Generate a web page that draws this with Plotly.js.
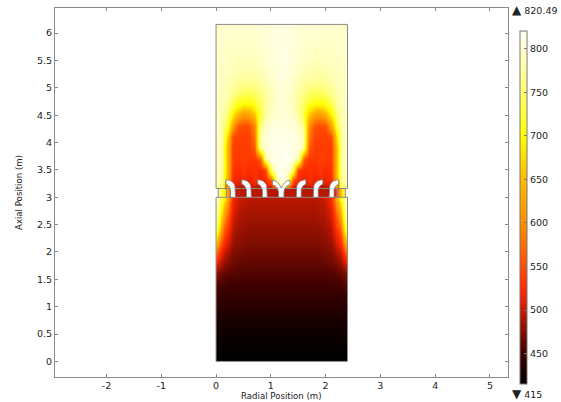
<!DOCTYPE html>
<html><head><meta charset="utf-8">
<script src="https://cdn.plot.ly/plotly-3.0.1.min.js"></script>
<style>html,body{margin:0;padding:0;background:#fff}</style></head>
<body><div id="chart" style="width:561px;height:402px"></div>
<script>
const upperX=[0,.05,.15,.25,.35,.45,.55,.65,.75,.85,.95,1.05,1.15,1.25,1.35,1.45,1.55,1.65,1.75,1.85,1.95,2.05,2.15,2.25,2.35,2.4];
const upperY=[3.16,3.23,3.4,3.6,3.8,4,4.2,4.4,4.6,4.8,5,5.2,5.4,5.65,5.95,6.16];
const upperT=[
[760,770,620,500,495,500,495,500,495,500,505,600,800,600,505,500,495,500,495,500,495,500,620,770,760],
[780,775,640,525,515,525,515,530,515,525,560,790,815,790,560,525,515,530,515,525,515,525,640,775,780],
[788,785,650,535,525,535,525,530,525,540,760,808,818,808,760,540,525,530,525,535,525,535,650,785,788],
[790,785,650,540,535,540,535,535,560,780,810,816,818,816,810,780,560,535,535,540,535,540,650,785,790],
[792,785,650,540,538,540,538,560,770,805,812,815,816,815,812,805,770,560,538,540,538,540,650,785,792],
[792,785,680,550,540,540,545,580,785,805,810,812,812,812,810,805,785,580,545,540,540,550,680,785,792],
[792,780,730,620,555,550,555,600,760,795,805,808,808,808,805,795,760,600,555,550,555,620,730,780,792],
[792,785,755,690,640,610,620,660,730,775,795,802,804,802,795,775,730,660,620,610,640,690,755,785,792],
[792,787,775,735,710,698,702,715,745,772,790,798,802,798,790,772,745,715,702,698,710,735,775,787,792],
[792,790,782,768,752,740,740,748,760,775,790,798,805,798,790,775,760,748,740,740,752,768,782,790,792],
[794,792,787,780,772,767,767,770,776,785,795,802,808,802,795,785,776,770,767,767,772,780,787,792,794],
[795,793,790,787,783,781,781,783,787,793,800,805,810,805,800,793,787,783,781,781,783,787,790,793,795],
[796,795,793,791,790,789,789,791,794,798,803,807,811,807,803,798,794,791,789,789,790,791,793,795,796],
[797,797,796,795,795,795,796,797,799,802,805,808,811,808,805,802,799,797,796,795,795,795,796,797,797],
[797,797,797,797,797,798,799,800,801,803,805,807,809,807,805,803,801,800,799,798,797,797,797,797,797]];
const lowerX=[0,.025,.075,.125,.175,.25,.35,.5,.7,.9,1.1,1.3,1.5,1.7,1.9,2.05,2.15,2.225,2.275,2.325,2.375,2.4];
const lowerY=[0,.1,.3,.5,.7,.9,1.1,1.3,1.5,1.7,1.9,2.1,2.3,2.5,2.7,2.9,3];
const lowerT=[
[415,415,415,415,415,415,415,415,415,415,415,415,415,415,415,415,415,415,415,415,415],
[417,417,417,417,417,417,417,417,417,417,417,417,417,417,417,417,417,417,417,417,417],
[421,421,421,421,421,421,421,421,421,421,421,421,421,421,421,421,421,421,421,421,421],
[426,426,426,426,426,426,426,426,426,426,426,426,426,426,426,426,426,426,426,426,426],
[432,432,431,431,431,431,431,431,431,431,431,431,431,431,431,431,431,431,431,432,432],
[440,439,439,438,438,438,438,438,438,438,438,438,438,438,438,438,438,438,439,439,440],
[449,448,447,446,445,445,445,445,445,445,445,445,445,445,445,445,445,446,447,448,449],
[460,458,455,453,452,451,451,451,451,451,451,451,451,451,451,451,452,453,455,458,460],
[478,472,466,462,461,459,458,457,457,457,457,457,457,457,458,459,461,462,466,472,478],
[520,504,490,480,475,468,465,463,463,463,463,463,463,463,465,468,475,480,490,504,520],
[590,550,516,500,490,476,472,469,469,469,469,469,469,469,472,476,490,500,516,550,590],
[690,620,558,526,510,486,479,475,475,475,475,475,475,475,479,486,510,526,558,620,690],
[750,690,610,556,530,494,484,480,480,480,480,480,480,480,484,494,530,556,610,690,750],
[775,730,660,598,556,504,490,485,485,485,485,485,485,485,490,504,556,598,660,730,775],
[785,755,700,640,588,514,496,490,490,490,490,490,490,490,496,514,588,640,700,755,785],
[790,770,735,690,620,525,500,494,494,494,494,494,494,494,500,525,620,690,735,770,790]];
const stripX=[.04,.08,.14,.2,.26,.35,.6,.9,1.2,1.5,1.8,2.05,2.14,2.2,2.26,2.32,2.36];
const stripY=[3,3.16];
const stripT=[[760,730,680,590,505,494,494,494,494,494,494,494,505,590,680,730]];
const lowerBoxX=[0,2.4,2.4,0,0],lowerBoxY=[0,0,3,3,0];
const upperBoxX=[0,2.4,2.4,0,0],upperBoxY=[3.16,3.16,6.16,6.16,3.16];
const stripBoxX=[.04,.04,null,2.36,2.36,null,.19,.19,null,2.21,2.21],stripBoxY=[3,3.16,null,3,3.16,null,3,3.16,null,3,3.16];
const partLinesX=[.18,.18,null,.47,.47,null,.76,.76,null,1.64,1.64,null,1.95,1.95,null,2.24,2.24],partLinesY=[3.16,3.3,null,3.16,3.3,null,3.16,3.3,null,3.16,3.3,null,3.16,3.3,null,3.16,3.3];
const pipeLeftCentres=[.31,.6,.89],pipeRightCentres=[1.51,1.82,2.11],pipeMidCentre=1.19;
const pipeDx=[.045,.045,.035,.01,-.04,-.09,-.13,-.13,-.09,-.06,-.045,-.045,.045];
const pipeDy=[3,3.16,3.21,3.26,3.3,3.315,3.32,3.24,3.22,3.18,3.14,3,3];
const midDx=[.05,.05,.07,.11,.16,.16,.1,.04,0,-.04,-.1,-.16,-.16,-.11,-.07,-.05,-.05,.05];
const midDy=[3,3.1,3.17,3.21,3.23,3.31,3.3,3.24,3.17,3.24,3.3,3.31,3.23,3.21,3.17,3.1,3,3];
const xTicks=[-2,-1,0,1,2,3,4,5];
const yTicks=[0,.5,1,1.5,2,2.5,3,3.5,4,4.5,5,5.5,6];
const yTickText=['0','0.5','1','1.5','2','2.5','3','3.5','4','4.5','5','5.5','6'];
const barTicks=[450,500,550,600,650,700,750,800];
const tMin=415,tMax=820.49;
const stops=[[415,'#000000'],[450,'#3c0000'],[480,'#901000'],[510,'#e62000'],[530,'#ff3000'],[600,'#ff9000'],[650,'#ffba00'],[700,'#ffff00'],[750,'#ffff6e'],[800,'#ffffd2'],[820.49,'#fffff5']];
const scale=stops.map(s=>[(s[0]-tMin)/(tMax-tMin),s[1]]);
const font={family:'"DejaVu Sans",sans-serif',size:9.5,color:'#222'};
const titleFont={family:'"DejaVu Sans",sans-serif',size:8.6,color:'#222'};
const hm=(x,y,z)=>({type:'heatmap',x,y,z,coloraxis:'coloraxis',zsmooth:'best',hoverinfo:'skip',showscale:false});
const line=(x,y,c,w)=>({type:'scatter',mode:'lines',x,y,line:{color:c,width:w},hoverinfo:'skip',showlegend:false,connectgaps:false});
const traces=[hm(lowerX,lowerY,lowerT),hm(upperX,upperY,upperT),hm(stripX,stripY,stripT),
 line(lowerBoxX,lowerBoxY,'#8a8a8a',1),line(upperBoxX,upperBoxY,'#8a8a8a',1),line(stripBoxX,stripBoxY,'#8a8a8a',1),line(partLinesX,partLinesY,'#6a2a20',.7)];
const pipe=(xs,ys)=>({type:'scatter',mode:'lines',x:xs,y:ys,fill:'toself',fillcolor:'#fff',line:{color:'#7a7a7a',width:.8},hoverinfo:'skip',showlegend:false});
pipeLeftCentres.forEach(c=>traces.push(pipe(pipeDx.map(d=>c+d),pipeDy)));
pipeRightCentres.forEach(c=>traces.push(pipe(pipeDx.map(d=>c-d),pipeDy)));
traces.push(pipe(midDx.map(d=>pipeMidCentre+d),midDy));
const axis={showgrid:false,zeroline:false,showline:true,linecolor:'#8a8a8a',linewidth:1,mirror:'ticks',ticks:'inside',ticklen:3,tickcolor:'#8a8a8a',tickfont:font};
const layout={width:561,height:402,margin:{l:55,r:53,t:8,b:25,autoexpand:false},paper_bgcolor:'#fff',plot_bgcolor:'#fff',showlegend:false,
 xaxis:{...axis,range:[-2.94,5.33],tickmode:'array',tickvals:xTicks,ticktext:xTicks.map(String)},
 yaxis:{...axis,range:[-.285,6.46],tickmode:'array',tickvals:yTicks,ticktext:yTickText,title:{text:'Axial Position (m)',font:titleFont,standoff:12}},
 coloraxis:{cmin:tMin,cmax:tMax,colorscale:scale,colorbar:{thickness:7,thicknessmode:'pixels',len:.957,lenmode:'fraction',x:1.0265,xanchor:'left',xpad:0,y:-.019,yanchor:'bottom',ypad:0,
  outlinecolor:'#777',outlinewidth:1,ticks:'inside',ticklen:3,tickcolor:'#777',tickmode:'array',tickvals:barTicks,ticktext:barTicks.map(String),tickfont:font}},
 annotations:[
  {xref:'paper',yref:'paper',x:.501,y:-.052,xanchor:'center',yanchor:'middle',text:'Radial Position (m)',showarrow:false,font:titleFont},
  {xref:'paper',yref:'paper',x:1.0055,y:.995,xanchor:'left',yanchor:'middle',text:'<span style="font-size:12px">▲</span> '+tMax,showarrow:false,font,align:'left'},
  {xref:'paper',yref:'paper',x:1.0055,y:-.046,xanchor:'left',yanchor:'middle',text:'<span style="font-size:12px">▼</span> '+tMin,showarrow:false,font,align:'left'}]};
Plotly.newPlot('chart',traces,layout,{displayModeBar:false,staticPlot:true});
</script></body></html>
